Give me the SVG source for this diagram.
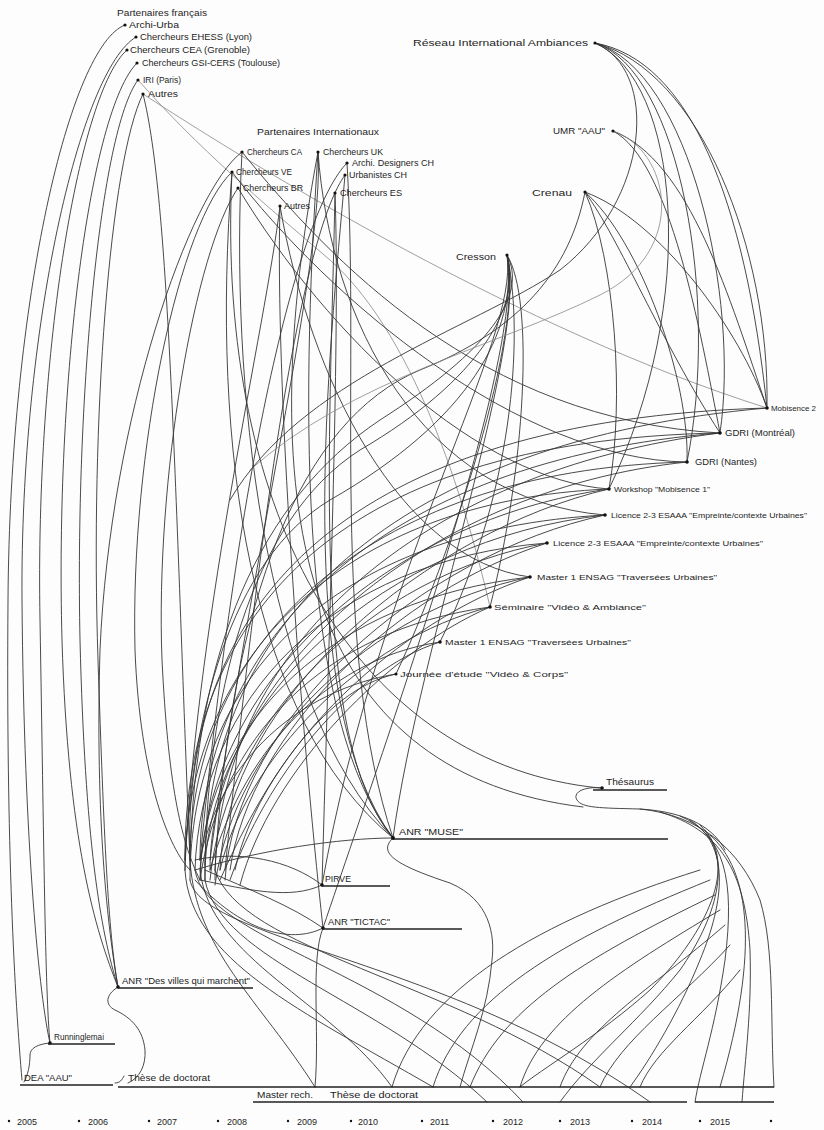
<svg xmlns="http://www.w3.org/2000/svg" width="824" height="1130" viewBox="0 0 824 1130">
<style>
.c{fill:none;stroke:#353535;stroke-width:.9;stroke-linecap:round}
.t{fill:none;stroke:#888;stroke-width:.8;stroke-linecap:round}
.u{fill:none;stroke:#222;stroke-width:1.3}
text{font-family:"Liberation Sans",Arial,sans-serif;font-size:9px;fill:#1e1e1e}
.s{font-size:8px}
.d{fill:#111}
</style>
<rect width="824" height="1130" fill="#fdfdfd"/>
<g id="connectors">
<path class="c" d="M125,25 C70,45 10,300 8,600 C6,850 15,1000 22,1080"/>
<path class="c" d="M136,37 C80,70 20,330 22,600 C24,850 40,1000 50,1043"/>
<path class="c" d="M127,50 C80,90 35,350 40,620 C44,850 45,990 50,1043"/>
<path class="c" d="M137,63 C90,110 55,380 62,640 C68,840 95,930 118,987"/>
<path class="c" d="M138,80 C100,130 75,400 80,640 C85,840 100,930 118,987"/>
<path class="c" d="M143,94 C110,160 90,420 98,660 C104,840 108,930 118,987"/>
<path class="t" d="M143,94 C260,170 520,330 767,408"/>
<path class="t" d="M138,80 C200,150 260,200 330,260 C420,340 470,520 490,607"/>
<path class="c" d="M143,94 C170,200 175,500 190,860"/>
<path class="c" d="M242,152 C190,190 110,420 100,650 C95,820 108,930 118,987"/>
<path class="c" d="M232,172 C180,220 130,450 135,650 C140,780 170,850 190,870"/>
<path class="c" d="M238,188 C195,250 155,480 162,660 C168,780 180,840 200,880"/>
<path class="c" d="M242,152 C330,260 480,420 720,433"/>
<path class="c" d="M232,172 C330,300 520,460 687,462"/>
<path class="c" d="M238,188 C330,340 480,480 609,489"/>
<path class="c" d="M318,152 C325,260 250,560 210,860"/>
<path class="c" d="M318,152 C330,320 420,500 605,515"/>
<path class="c" d="M347,163 C300,210 240,450 200,860"/>
<path class="c" d="M345,175 C305,230 265,470 225,870"/>
<path class="c" d="M335,193 C340,330 330,600 322,885"/>
<path class="c" d="M280,206 C265,330 200,600 185,860"/>
<path class="c" d="M280,206 C275,380 300,720 323,928"/>
<path class="c" d="M280,206 C310,380 400,560 530,577"/>
<path class="c" d="M242,152 C230,380 260,700 393,838"/>
<path class="c" d="M347,163 C360,380 330,650 393,838"/>
<path class="c" d="M345,175 C330,350 290,700 393,838"/>
<path class="c" d="M232,172 C210,450 250,720 393,838"/>
<path class="c" d="M318,152 C300,420 300,720 393,838"/>
<path class="c" d="M335,193 C330,450 310,740 393,838"/>
<path class="c" d="M507,255 C535,300 525,470 490,607"/>
<path class="c" d="M507,255 C525,330 450,560 396,674"/>
<path class="c" d="M507,255 C528,295 490,350 380,420 C260,500 195,650 190,860"/>
<path class="c" d="M507,255 C522,305 480,380 360,450 C250,520 205,700 205,880"/>
<path class="c" d="M507,255 C522,320 520,480 440,642"/>
<path class="c" d="M507,255 C530,340 420,640 393,838"/>
<path class="c" d="M507,255 C520,340 380,560 322,885"/>
<path class="c" d="M507,255 C518,330 470,420 330,500 C230,560 190,720 185,870"/>
<path class="c" d="M507,255 C525,350 400,700 323,928"/>
<path class="c" d="M585,192 C615,260 625,400 609,489"/>
<path class="c" d="M585,192 C640,240 690,380 687,462"/>
<path class="c" d="M585,192 C660,220 740,330 767,408"/>
<path class="c" d="M585,192 C620,240 660,340 720,433"/>
<path class="c" d="M585,192 C570,270 520,330 420,370 C300,420 230,600 215,870"/>
<path class="c" d="M613,131 C690,160 730,300 767,408"/>
<path class="c" d="M613,131 C670,160 700,330 720,433"/>
<path class="t" d="M613,131 C670,150 690,250 600,295 C500,345 350,380 250,470"/>
<path class="c" d="M595,43 C690,60 745,200 767,408"/>
<path class="c" d="M595,43 C700,70 770,250 767,408"/>
<path class="c" d="M595,43 C690,70 740,300 720,433"/>
<path class="c" d="M595,43 C680,70 720,300 687,462"/>
<path class="c" d="M595,43 C680,80 700,300 609,489"/>
<path class="c" d="M595,43 C660,70 650,200 560,270 C470,330 300,380 230,500"/>
<path class="c" d="M190,860 C180,600 350,420 767,408"/>
<path class="c" d="M205,880 C200,620 400,440 767,408"/>
<path class="c" d="M185,870 C180,620 330,440 720,433"/>
<path class="c" d="M200,860 C200,640 380,460 720,433"/>
<path class="c" d="M215,880 C215,650 420,470 720,433"/>
<path class="c" d="M190,870 C185,650 360,470 687,462"/>
<path class="c" d="M210,870 C210,680 420,490 687,462"/>
<path class="c" d="M185,860 C190,660 340,500 609,489"/>
<path class="c" d="M200,880 C205,680 390,520 609,489"/>
<path class="c" d="M220,870 C225,700 430,530 609,489"/>
<path class="c" d="M190,880 C190,680 330,530 605,515"/>
<path class="c" d="M205,865 C215,700 380,540 605,515"/>
<path class="c" d="M225,880 C235,720 420,555 605,515"/>
<path class="c" d="M195,870 C200,700 330,560 547,543"/>
<path class="c" d="M210,880 C225,720 370,575 547,543"/>
<path class="c" d="M230,870 C250,730 400,590 547,543"/>
<path class="c" d="M200,870 C210,720 330,600 530,577"/>
<path class="c" d="M215,885 C235,740 370,610 530,577"/>
<path class="c" d="M235,870 C260,750 400,620 530,577"/>
<path class="c" d="M200,880 C220,740 320,630 490,607"/>
<path class="c" d="M220,870 C245,760 360,640 490,607"/>
<path class="c" d="M240,885 C270,770 390,650 490,607"/>
<path class="c" d="M210,870 C240,760 320,660 440,642"/>
<path class="c" d="M230,880 C265,780 350,670 440,642"/>
<path class="c" d="M220,880 C260,790 320,690 396,674"/>
<path class="c" d="M200,860 C220,760 300,690 396,674"/>
<path class="c" d="M190,860 C195,950 260,1000 315,1087"/>
<path class="c" d="M200,870 C210,960 330,1000 392,1087"/>
<path class="c" d="M185,870 C190,960 300,1010 433,1087"/>
<path class="c" d="M205,880 C220,960 380,1000 487,1102"/>
<path class="c" d="M195,870 C205,940 400,970 523,1102"/>
<path class="c" d="M215,870 C240,950 450,980 600,1087"/>
<path class="c" d="M190,880 C200,940 450,960 650,1102"/>
<path class="c" d="M195,860 C240,850 290,860 322,885"/>
<path class="c" d="M200,880 C250,890 290,900 322,885"/>
<path class="c" d="M205,870 C250,890 290,905 323,928"/>
<path class="c" d="M195,880 C240,930 290,945 323,928"/>
<path class="c" d="M393,838 C340,838 260,850 195,870"/>
<path class="c" d="M323,928 C310,960 320,1030 315,1087"/>
<path class="c" d="M393,838 C378,852 392,864 450,883 C490,900 495,935 492,960 C488,1010 470,1050 460,1087"/>
<path class="c" d="M602,788 C585,786 572,792 577,800 C582,808 600,808 640,809 C690,812 715,830 725,850"/>
<path class="c" d="M232,172 C215,520 360,765 600,788"/>
<path class="c" d="M318,152 C245,540 320,775 583,807"/>
<path class="c" d="M640,809 C700,815 740,850 760,900 C775,950 770,1020 774,1087"/>
<path class="c" d="M660,812 C720,830 745,870 750,950 C752,1010 745,1060 742,1102"/>
<path class="c" d="M680,816 C725,835 735,880 725,960 C715,1030 700,1070 695,1102"/>
<path class="c" d="M690,820 C730,845 725,900 700,960 C680,1010 650,1060 630,1087"/>
<path class="c" d="M700,825 C735,860 715,920 680,970 C640,1020 590,1060 560,1102"/>
<path class="c" d="M705,830 C740,870 700,940 650,990 C600,1035 540,1070 520,1087"/>
<path class="c" d="M710,835 C750,870 760,950 720,1087"/>
<path class="c" d="M433,1087 C460,1000 560,940 710,880"/>
<path class="c" d="M470,1087 C500,1010 580,960 715,895"/>
<path class="c" d="M520,1087 C540,1020 620,970 720,910"/>
<path class="c" d="M560,1087 C580,1030 650,990 725,925"/>
<path class="c" d="M600,1087 C620,1040 680,1000 730,945"/>
<path class="c" d="M392,1087 C420,990 540,920 700,870"/>
<path class="c" d="M640,1087 C655,1050 700,1020 740,970"/>
<path class="c" d="M118,987 C105,995 105,1005 115,1010 C132,1018 143,1030 145,1050 C146,1065 140,1078 128,1083"/>
<path class="c" d="M50,1043 C38,1044 30,1048 30,1055 C30,1065 28,1075 24,1082"/>
<path class="c" d="M115,1083 C120,1083 122,1080 124,1076"/>
</g>
<g id="timeline">
<path class="u" d="M20,1085 L113,1085 M118,1087 L774,1087 M253,1102 L687,1102 M695,1102 L774,1102"/>
<g id="years">
<circle class="d" cx="9" cy="1121" r="1.2"/><text x="17" y="1125">2005</text>
<circle class="d" cx="79" cy="1121" r="1.2"/><text x="88" y="1125">2006</text>
<circle class="d" cx="149" cy="1121" r="1.2"/><text x="157" y="1125">2007</text>
<circle class="d" cx="218" cy="1121" r="1.2"/><text x="227" y="1125">2008</text>
<circle class="d" cx="288" cy="1121" r="1.2"/><text x="297" y="1125">2009</text>
<circle class="d" cx="351" cy="1121" r="1.2"/><text x="358" y="1125">2010</text>
<circle class="d" cx="422" cy="1121" r="1.2"/><text x="430" y="1125">2011</text>
<circle class="d" cx="493" cy="1121" r="1.2"/><text x="503" y="1125">2012</text>
<circle class="d" cx="560" cy="1121" r="1.2"/><text x="570" y="1125">2013</text>
<circle class="d" cx="632" cy="1121" r="1.2"/><text x="642" y="1125">2014</text>
<circle class="d" cx="700" cy="1121" r="1.2"/><text x="710" y="1125">2015</text>
<circle class="d" cx="771" cy="1121" r="1.2"/>
</g>
</g>
<g id="fr-title"><text x="117" y="16" textLength="90" lengthAdjust="spacingAndGlyphs">Partenaires français</text></g>
<g id="fr-archiurba"><circle class="d" cx="125" cy="25" r="1.6"/><text x="129" y="28" textLength="50" lengthAdjust="spacingAndGlyphs">Archi-Urba</text></g>
<g id="fr-ehess"><circle class="d" cx="136" cy="37" r="1.6"/><text x="140" y="40" textLength="112" lengthAdjust="spacingAndGlyphs">Chercheurs EHESS (Lyon)</text></g>
<g id="fr-cea"><circle class="d" cx="127" cy="50" r="1.6"/><text x="130" y="53" textLength="120" lengthAdjust="spacingAndGlyphs">Chercheurs CEA (Grenoble)</text></g>
<g id="fr-gsi"><circle class="d" cx="137" cy="63" r="1.6"/><text x="142" y="66" textLength="138" lengthAdjust="spacingAndGlyphs">Chercheurs GSI-CERS (Toulouse)</text></g>
<g id="fr-iri"><circle class="d" cx="138" cy="80" r="1.6"/><text x="143" y="83" textLength="38" lengthAdjust="spacingAndGlyphs">IRI (Paris)</text></g>
<g id="fr-autres"><circle class="d" cx="143" cy="94" r="1.6"/><text x="148" y="97" textLength="30" lengthAdjust="spacingAndGlyphs">Autres</text></g>
<g id="int-title"><text x="257" y="135" textLength="122" lengthAdjust="spacingAndGlyphs">Partenaires Internationaux</text></g>
<g id="int-ca"><circle class="d" cx="242" cy="152" r="1.6"/><text x="247" y="155" textLength="55" lengthAdjust="spacingAndGlyphs">Chercheurs CA</text></g>
<g id="int-uk"><circle class="d" cx="318" cy="152" r="1.6"/><text x="323" y="155" textLength="60" lengthAdjust="spacingAndGlyphs">Chercheurs UK</text></g>
<g id="int-archich"><circle class="d" cx="347" cy="163" r="1.6"/><text x="352" y="166" textLength="82" lengthAdjust="spacingAndGlyphs">Archi. Designers CH</text></g>
<g id="int-urbch"><circle class="d" cx="345" cy="175" r="1.6"/><text x="349" y="178" textLength="58" lengthAdjust="spacingAndGlyphs">Urbanistes CH</text></g>
<g id="int-ve"><circle class="d" cx="232" cy="172" r="1.6"/><text x="236" y="175" textLength="56" lengthAdjust="spacingAndGlyphs">Chercheurs VE</text></g>
<g id="int-br"><circle class="d" cx="238" cy="188" r="1.6"/><text x="243" y="191" textLength="60" lengthAdjust="spacingAndGlyphs">Chercheurs BR</text></g>
<g id="int-es"><circle class="d" cx="335" cy="193" r="1.6"/><text x="340" y="196" textLength="62" lengthAdjust="spacingAndGlyphs">Chercheurs ES</text></g>
<g id="int-autres"><circle class="d" cx="280" cy="206" r="1.6"/><text x="284" y="209" textLength="26" lengthAdjust="spacingAndGlyphs">Autres</text></g>
<g id="reseau"><text x="413" y="46" textLength="175" lengthAdjust="spacingAndGlyphs">Réseau International Ambiances</text><circle class="d" cx="595" cy="43" r="1.6"/></g>
<g id="umr"><text x="553" y="134" textLength="52" lengthAdjust="spacingAndGlyphs">UMR "AAU"</text><circle class="d" cx="613" cy="131" r="1.6"/></g>
<g id="crenau"><text x="532" y="196" textLength="40" lengthAdjust="spacingAndGlyphs">Crenau</text><circle class="d" cx="585" cy="192" r="1.6"/></g>
<g id="cresson"><text x="456" y="260" textLength="40" lengthAdjust="spacingAndGlyphs">Cresson</text><circle class="d" cx="507" cy="255" r="1.6"/></g>
<g id="mob2"><circle class="d" cx="767" cy="408" r="1.8"/><text class="s" x="771" y="411" textLength="45" lengthAdjust="spacingAndGlyphs">Mobisence 2</text></g>
<g id="gdri-mtl"><circle class="d" cx="720" cy="433" r="1.8"/><text x="725" y="436" textLength="70" lengthAdjust="spacingAndGlyphs">GDRI (Montréal)</text></g>
<g id="gdri-nantes"><circle class="d" cx="687" cy="462" r="1.8"/><text x="695" y="465" textLength="62" lengthAdjust="spacingAndGlyphs">GDRI (Nantes)</text></g>
<g id="workshop"><circle class="d" cx="609" cy="489" r="1.8"/><text class="s" x="614" y="492" textLength="96" lengthAdjust="spacingAndGlyphs">Workshop "Mobisence 1"</text></g>
<g id="licence1"><circle class="d" cx="605" cy="515" r="1.8"/><text class="s" x="611" y="518" textLength="196" lengthAdjust="spacingAndGlyphs">Licence 2-3 ESAAA "Empreinte/contexte Urbaines"</text></g>
<g id="licence2"><circle class="d" cx="547" cy="543" r="1.8"/><text class="s" x="553" y="546" textLength="210" lengthAdjust="spacingAndGlyphs">Licence 2-3 ESAAA "Empreinte/contexte Urbaines"</text></g>
<g id="master1"><circle class="d" cx="530" cy="577" r="1.8"/><text class="s" x="537" y="580" textLength="180" lengthAdjust="spacingAndGlyphs">Master 1 ENSAG "Traversées Urbaines"</text></g>
<g id="seminaire"><circle class="d" cx="490" cy="607" r="1.8"/><text class="s" x="494" y="610" textLength="152" lengthAdjust="spacingAndGlyphs">Séminaire "Vidéo &amp; Ambiance"</text></g>
<g id="master1b"><circle class="d" cx="440" cy="642" r="1.8"/><text class="s" x="445" y="645" textLength="186" lengthAdjust="spacingAndGlyphs">Master 1 ENSAG "Traversées Urbaines"</text></g>
<g id="journee"><circle class="d" cx="396" cy="674" r="1.6"/><text class="s" x="400" y="677" textLength="168" lengthAdjust="spacingAndGlyphs">Journée d'étude "Vidéo &amp; Corps"</text></g>
<g id="thesaurus"><circle class="d" cx="602" cy="788" r="1.8"/><text x="606" y="785" textLength="48" lengthAdjust="spacingAndGlyphs">Thésaurus</text><path class="u" d="M593,790 L667,790"/></g>
<g id="muse"><circle class="d" cx="393" cy="838" r="2"/><text x="399" y="835" textLength="64" lengthAdjust="spacingAndGlyphs">ANR "MUSE"</text><path class="u" d="M393,839 L668,839"/></g>
<g id="pirve"><circle class="d" cx="322" cy="885" r="1.8"/><text x="325" y="882" textLength="26" lengthAdjust="spacingAndGlyphs">PIRVE</text><path class="u" d="M322,886 L390,886"/></g>
<g id="tictac"><circle class="d" cx="323" cy="928" r="1.8"/><text x="328" y="925" textLength="62" lengthAdjust="spacingAndGlyphs">ANR "TICTAC"</text><path class="u" d="M323,929 L462,929"/></g>
<g id="desvilles"><circle class="d" cx="118" cy="987" r="1.8"/><text x="122" y="984" textLength="128" lengthAdjust="spacingAndGlyphs">ANR "Des villes qui marchent"</text><path class="u" d="M118,988 L253,988"/></g>
<g id="runn"><circle class="d" cx="50" cy="1043" r="1.8"/><text x="54" y="1040" textLength="50" lengthAdjust="spacingAndGlyphs">Runninglemai</text><path class="u" d="M48,1044 L115,1044"/></g>
<g id="dea"><text x="24" y="1081" textLength="48" lengthAdjust="spacingAndGlyphs">DEA "AAU"</text><text x="128" y="1081" textLength="82" lengthAdjust="spacingAndGlyphs">Thèse de doctorat</text></g>
<g id="master-rech"><text x="257" y="1098" textLength="56" lengthAdjust="spacingAndGlyphs">Master rech.</text><text x="330" y="1098" textLength="88" lengthAdjust="spacingAndGlyphs">Thèse de doctorat</text></g>
</svg>
